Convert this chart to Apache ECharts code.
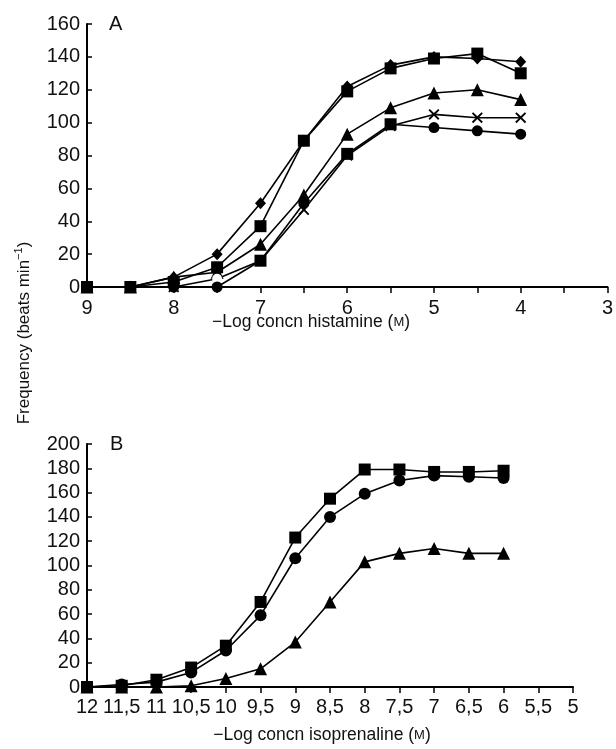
<!DOCTYPE html>
<html>
<head>
<meta charset="utf-8">
<script src="https://cdn.jsdelivr.net/npm/echarts@6/dist/echarts.min.js"></script>
<style>html,body{margin:0;padding:0;background:#fff}#c{width:616px;height:749px}</style>
</head>
<body>
<div id="c"></div>
<script>
// Panel A: histamine
const histX = [9, 8.5, 8, 7.5, 7, 6.5, 6, 5.5, 5, 4.5, 4];
const diamondA = [0, 0, 6, 20, 51, 89, 122, 135, 140, 139, 137];
const squareA = [0, 0, 3, 12, 37, 89, 119, 133, 139, 142, 130];
const triangleA = [0, 0, 6, 9, 26, 56, 93, 109, 118, 120, 114];
const crossA = [0, 0, 0, 5, 16, 47, 80, 98, 105, 103, 103];
const circleA = [0, 0, 0, 0, 16, 51, 81, 99, 97, 95, 93];
const yTicksA = [0, 20, 40, 60, 80, 100, 120, 140, 160];

// Panel B: isoprenaline
const isoX = [12, 11.5, 11, 10.5, 10, 9.5, 9, 8.5, 8, 7.5, 7, 6.5, 6];
const squareB = [0, 1, 6, 16, 34, 70, 123, 155, 179, 179, 177, 177, 178];
const circleB = [0, 2, 4, 12, 30, 59, 106, 140, 159, 170, 174, 173, 172];
const triangleB = [0, 0, 0, 1, 7, 15, 37, 70, 103, 110, 114, 110, 110];
const yTicksB = [0, 20, 40, 60, 80, 100, 120, 140, 160, 180, 200];

const FONT = 'Liberation Sans, Arial, Helvetica, sans-serif';
const CROSS = 'path://M0,1.2L1.2,0L5,3.8L8.8,0L10,1.2L6.2,5L10,8.8L8.8,10L5,6.2L1.2,10L0,8.8L3.8,5Z';

function pairs(xs, ys, overrides) {
  return xs.map((x, i) => {
    const item = { value: [x, ys[i]] };
    if (overrides && overrides[i]) Object.assign(item, overrides[i]);
    return item;
  });
}

function lineSeries(xi, yi, data, symbol, size) {
  return {
    type: 'line', xAxisIndex: xi, yAxisIndex: yi, data: data,
    symbol: symbol, symbolSize: size, showSymbol: true,
    lineStyle: { color: '#000', width: 1.6 },
    itemStyle: { color: '#000', borderColor: '#000', borderWidth: 0 },
    animation: false, z: 3
  };
}

const chart = echarts.init(document.getElementById('c'), null, { renderer: 'canvas' });

const axisCommonX = {
  type: 'value', inverse: true, interval: 0.5,
  axisLine: { lineStyle: { color: '#000', width: 2 } },
  axisTick: { show: true, inside: false, length: 6, lineStyle: { color: '#000', width: 1.5 } },
  splitLine: { show: false },
  axisLabel: { color: '#111', fontSize: 20, fontFamily: FONT, margin: 11 }
};
const axisCommonY = {
  type: 'value',
  axisLine: { show: true, lineStyle: { color: '#000', width: 2 } },
  axisTick: { show: true, inside: true, length: 5, lineStyle: { color: '#000', width: 1.5 } },
  splitLine: { show: false },
  axisLabel: { color: '#111', fontSize: 20, fontFamily: FONT, margin: 7 }
};

chart.setOption({
  backgroundColor: '#fff',
  grid: [
    { left: 87, top: 24, width: 522, height: 263 },
    { left: 87, top: 444, width: 486, height: 243 }
  ],
  xAxis: [
    Object.assign({}, axisCommonX, {
      gridIndex: 0, min: 3, max: 9,
      axisLabel: Object.assign({}, axisCommonX.axisLabel, {
        formatter: v => (Math.abs(v - Math.round(v)) < 1e-6 ? String(Math.round(v)) : '')
      })
    }),
    Object.assign({}, axisCommonX, {
      gridIndex: 1, min: 5, max: 12,
      axisLabel: Object.assign({}, axisCommonX.axisLabel, {
        formatter: v => String(v).replace('.', ','),
        margin: 10
      })
    })
  ],
  yAxis: [
    Object.assign({}, axisCommonY, {
      gridIndex: 0, min: yTicksA[0], max: yTicksA[yTicksA.length - 1], interval: yTicksA[1] - yTicksA[0]
    }),
    Object.assign({}, axisCommonY, {
      gridIndex: 1, min: yTicksB[0], max: yTicksB[yTicksB.length - 1], interval: yTicksB[1] - yTicksB[0]
    })
  ],
  series: [
    lineSeries(0, 0, pairs(histX, diamondA), 'diamond', [11, 12]),
    lineSeries(0, 0, pairs(histX, squareA), 'rect', 12),
    lineSeries(0, 0, pairs(histX, triangleA), 'triangle', 13),
    lineSeries(0, 0, pairs(histX, crossA, { 3: { symbol: 'emptyCircle', symbolSize: 8, itemStyle: { color: '#fff', borderColor: '#000', borderWidth: 1.5 } } }), CROSS, 11),
    lineSeries(0, 0, pairs(histX, circleA, { 4: { symbol: 'rect', symbolSize: 12 }, 6: { symbol: 'rect', symbolSize: 12 }, 7: { symbol: 'rect', symbolSize: 12 } }), 'circle', 11),
    lineSeries(1, 1, pairs(isoX, squareB), 'rect', 12),
    lineSeries(1, 1, pairs(isoX, circleB), 'circle', 12),
    lineSeries(1, 1, pairs(isoX, triangleB), 'triangle', 13)
  ],
  graphic: [
    { type: 'text', left: 109, top: 14, style: { text: 'A', font: '20px ' + FONT, fill: '#111' } },
    { type: 'text', left: 110, top: 434, style: { text: 'B', font: '20px ' + FONT, fill: '#111' } },
    { type: 'text', x: 23, y: 333, rotation: Math.PI / 2,
      style: {
        text: '{t|Frequency (beats min}{s|−1}{t|)}',
        rich: {
          t: { fontSize: 17, fontFamily: FONT, fill: '#111', verticalAlign: 'bottom' },
          s: { fontSize: 11, fontFamily: FONT, fill: '#111', verticalAlign: 'top', padding: [0, 0, 8, 0] }
        },
        align: 'center', verticalAlign: 'middle'
      }
    },
    { type: 'text', x: 311, y: 322,
      style: {
        text: '{t|−Log concn histamine (}{s|M}{t|)}',
        rich: { t: { fontSize: 17.5, fontFamily: FONT, fill: '#111' }, s: { fontSize: 13, fontFamily: FONT, fill: '#111' } },
        align: 'center', verticalAlign: 'middle'
      }
    },
    { type: 'text', x: 322, y: 735,
      style: {
        text: '{t|−Log concn isoprenaline (}{s|M}{t|)}',
        rich: { t: { fontSize: 17.5, fontFamily: FONT, fill: '#111' }, s: { fontSize: 13, fontFamily: FONT, fill: '#111' } },
        align: 'center', verticalAlign: 'middle'
      }
    }
  ]
});
</script>
</body>
</html>
